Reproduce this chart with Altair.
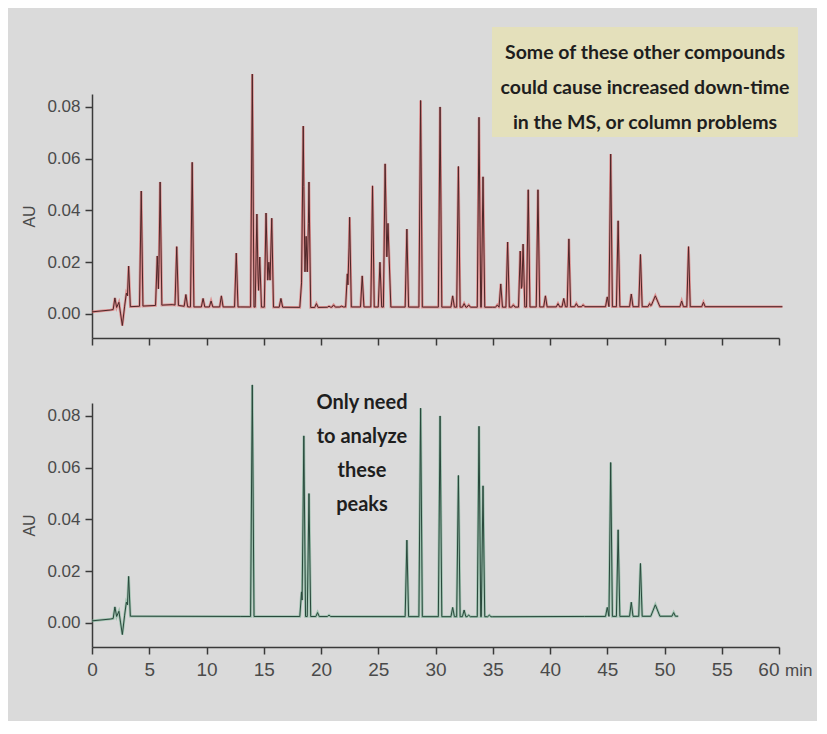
import altair as alt
import numpy as np
import pandas as pd

# ---------------- data ----------------
# upper trace (full sample): baseline knots incl. injection artefact
red_knot_t = [0.0, 1.6, 1.85, 2.0, 2.15, 2.35, 2.5, 2.65, 2.85, 3.0, 3.1, 3.2, 3.35,
              7.0, 8.5, 13.0, 19.5, 22.0, 35.0, 43.0, 60.3]
red_knot_v = [0.0008, 0.0015, 0.0017, 0.0062, 0.0025, 0.0045, 0.0, -0.0045, 0.003, 0.008, 0.007, 0.0185, 0.0028,
              0.0036, 0.0027, 0.0027, 0.0025, 0.0027, 0.0026, 0.0028, 0.0028]
red_peak_t = [4.3, 5.7, 5.95, 7.4, 8.2, 8.75, 9.7, 10.4, 11.3, 12.6,
              14.0, 14.4, 14.65, 15.2, 15.45, 15.7, 16.5,
              18.3, 18.45, 18.7, 18.95, 19.6, 20.7, 21.1, 21.8,
              22.3, 22.5, 23.6, 24.5, 25.15, 25.6, 25.85, 27.5, 28.7, 30.4,
              31.5, 32.0, 32.5, 32.9, 33.8, 34.15, 35.4, 35.7, 36.3, 36.8,
              37.4, 37.65, 38.1, 38.95, 39.6, 40.7, 41.2, 41.65, 42.3, 42.9,
              45.0, 45.3, 45.95, 47.1, 47.9, 48.7, 49.2, 51.5, 52.1, 53.4]
red_peak_h = [0.0475, 0.0224, 0.051, 0.026, 0.0075, 0.0586, 0.006, 0.005, 0.007, 0.0235,
              0.0927, 0.0386, 0.022, 0.039, 0.020, 0.037, 0.006,
              0.012, 0.0726, 0.030, 0.051, 0.004, 0.003, 0.0035, 0.003,
              0.0155, 0.0374, 0.0147, 0.0495, 0.020, 0.058, 0.035, 0.0328, 0.0825, 0.080,
              0.007, 0.057, 0.004, 0.0035, 0.076, 0.053, 0.0035, 0.0116, 0.0278, 0.0035,
              0.0243, 0.027, 0.048, 0.048, 0.007, 0.004, 0.006, 0.029, 0.004, 0.0035,
              0.0066, 0.0618, 0.036, 0.0077, 0.023, 0.004, 0.007, 0.005, 0.026, 0.0045]

# lower trace (target peaks only)
green_knot_t = [0.0, 1.6, 1.85, 2.0, 2.15, 2.35, 2.5, 2.65, 2.85, 3.0, 3.1, 3.2, 3.35,
                13.0, 35.0, 43.0, 51.2]
green_knot_v = [0.0008, 0.0015, 0.0017, 0.0062, 0.0025, 0.0045, 0.0, -0.0045, 0.003, 0.008, 0.007, 0.018, 0.0026,
                0.0025, 0.0024, 0.0025, 0.0026]
green_peak_t = [14.0, 18.3, 18.5, 18.95, 19.7, 20.7, 27.5, 28.7, 30.4, 31.5, 32.0, 32.5, 32.9,
                33.8, 34.15, 34.7, 45.0, 45.3, 45.95, 47.1, 47.9, 49.2, 50.8]
green_peak_h = [0.092, 0.012, 0.0723, 0.050, 0.004, 0.003, 0.032, 0.083, 0.080, 0.006, 0.057, 0.005, 0.003,
                0.076, 0.053, 0.003, 0.006, 0.062, 0.036, 0.008, 0.023, 0.007, 0.004]

broad_peaks = {49.2: 0.4, 15.45: 0.25, 25.85: 0.25, 18.7: 0.2}

x_ticks = list(range(0, 61, 5))
y_ticks = [0.0, 0.02, 0.04, 0.06, 0.08]
x_unit = "min"

note_top = "Some of these other compounds\ncould cause increased down-time\nin the MS, or column problems"
note_bottom = "Only need\nto analyze\nthese\npeaks"


def trace(kt, kv, pt, ph, hw=0.15):
    kt = np.array(kt, float)
    kv = np.array(kv, float)
    keys = set(kt.tolist())
    for t in pt:
        w = broad_peaks.get(t, hw)
        keys.update([t - w, t, t + w])
    keys = np.array(sorted(k for k in keys if kt[0] <= k <= kt[-1]))
    base = np.interp(keys, kt, kv)
    bump = np.zeros_like(keys)
    for t, h in zip(pt, ph):
        w = broad_peaks.get(t, hw)
        hb = h - np.interp(t, kt, kv)
        bump = np.maximum(bump, hb * np.clip(1 - np.abs(keys - t) / w, 0, None))
    return pd.DataFrame({"t": keys, "au": base + bump})


red_df = trace(red_knot_t, red_knot_v, red_peak_t, red_peak_h)
green_df = trace(green_knot_t, green_knot_v, green_peak_t, green_peak_h)

AXFONT = "Liberation Sans"
NOTEFONT = "Lato"
W, H = 687, 244
ydom = [-0.0093, 0.085]

yaxis = alt.Axis(values=y_ticks, format=".2f", title="AU", grid=False,
                 labelFont=AXFONT, labelFontSize=17, labelColor="#4a4a4a", labelPadding=5,
                 titleFont=AXFONT, titleFontSize=16, titleFontWeight="normal", titleColor="#4a4a4a",
                 titlePadding=9, domainColor="#3a3a3a", domainWidth=1.5,
                 tickColor="#3a3a3a", tickSize=7, tickWidth=1.5)


def xaxis(labels):
    return alt.Axis(values=x_ticks, title=None, grid=False, labels=labels,
                    labelAlign={"condition": {"test": "datum.value == 60", "value": "right"},
                                "value": "center"},
                    labelFlush=False, labelFont=AXFONT, labelFontSize=19, labelColor="#4a4a4a",
                    labelPadding=6, domainColor="#3a3a3a", domainWidth=1.5,
                    tickColor="#3a3a3a", tickSize=7, tickWidth=1.5)


def panel(df, light, dark, labels):
    x = alt.X("t:Q", scale=alt.Scale(domain=[0, 60], nice=False), axis=xaxis(labels))
    y = alt.Y("au:Q", scale=alt.Scale(domain=ydom, nice=False, zero=False), axis=yaxis)
    base = alt.Chart(df)
    glow = base.mark_line(color=light, strokeWidth=2.6, opacity=0.65, clip=False).encode(x=x, y=y, order="t:Q")
    core = base.mark_line(color=dark, strokeWidth=1.0, clip=False).encode(x=x, y=y, order="t:Q")
    return glow + core


top_note = alt.Chart(pd.DataFrame({"note": [note_top]}))
box = top_note.mark_rect(color="#e4e0bb").encode(
    x=alt.value(400), x2=alt.value(706), y=alt.value(-67), y2=alt.value(43))
box_text = top_note.mark_text(lineBreak="\n", lineHeight=35, font=NOTEFONT, fontSize=19.5, fontWeight="bold",
                              color="#1e1e1e", align="center", baseline="top").encode(
    text="note:N", x=alt.value(553), y=alt.value(-50))

bottom_note = alt.Chart(pd.DataFrame({"note": [note_bottom]})).mark_text(
    lineBreak="\n", lineHeight=34, font=NOTEFONT, fontSize=20, fontWeight="bold",
    color="#1e1e1e", align="center", baseline="top").encode(
    text="note:N", x=alt.value(270), y=alt.value(-10))

unit_label = alt.Chart(pd.DataFrame({"u": [x_unit]})).mark_text(
    font=AXFONT, fontSize=17, color="#4a4a4a", align="left", baseline="middle").encode(
    text="u:N", x=alt.value(693), y=alt.value(268))

top = alt.layer(panel(red_df, "#e06a6a", "#4e2628", False), box, box_text).properties(width=W, height=H)
bottom = alt.layer(panel(green_df, "#7fb59a", "#28483b", True), bottom_note, unit_label).properties(width=W, height=H)

chart = alt.vconcat(top, bottom, spacing=33, background="#dadada",
                    padding={"left": 13, "top": 19, "right": 4, "bottom": 42}).configure_view(stroke=None)

chart.save("out.html", embed_options={"renderer": "svg", "actions": False})
